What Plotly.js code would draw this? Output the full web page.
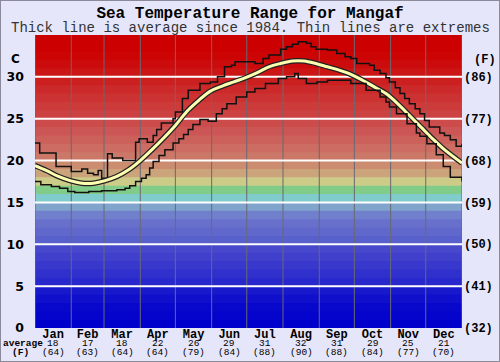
<!DOCTYPE html>
<html><head><meta charset="utf-8">
<script src="https://cdn.plot.ly/plotly-3.0.1.min.js"></script>
<style>
body{margin:0;background:#e6e6fa;}
#chart{width:500px;height:362px;}
#frame{position:absolute;left:0;top:0;width:500px;height:362px;box-sizing:border-box;border:1px solid #8a8a9a;pointer-events:none;}
</style>
</head><body>
<div id="chart"></div><div id="frame"></div>
<script>
// ---- data ----
const months = ['Jan','Feb','Mar','Apr','May','Jun','Jul','Aug','Sep','Oct','Nov','Dec'];
const monthStart = [0,31,59,90,120,151,181,212,243,273,304,334,365];
const monthAvgC = [18,17,18,22,26,29,31,32,31,29,25,21];
const monthAvgF = [64,63,64,64,79,84,88,90,88,84,77,70];
const yTicksC = [0,5,10,15,20,25,30];
const yTicksF = ['(32)','(41)','(50)','(59)','(68)','(77)','(86)'];
const gridC = [5,10,15,20,25,30];

const avgDays = [0,10,20,30,40,50,60,70,80,90,100,110,120,130,140,150,160,170,180,190,200,210,220,230,240,250,260,270,280,290,300,310,320,330,340,350,365];
const avgTemp = [19.4,18.8,18.1,17.6,17.3,17.3,17.6,18.1,18.9,20.0,21.3,22.7,24.2,25.9,27.2,28.3,28.9,29.4,29.9,30.5,31.2,31.6,31.9,31.9,31.6,31.2,30.8,30.3,29.6,28.8,28.0,26.8,25.4,24.0,22.6,21.3,19.7];

const maxDays = [0,4,18,31,40,45,50,54,57,62,66,75,86,89,96,101,104,108,118,120,126,131,141,150,156,162,168,171,185,188,195,200,210,215,220,225,232,236,240,250,258,265,270,275,286,290,295,300,303,308,312,316,320,325,329,333,337,346,350,355,360,365];
const maxTemp = [22.1,20.9,19.3,18.7,19.0,18.5,18.3,18.8,17.9,20.8,20.3,20.0,22.2,22.6,22.2,23.0,23.7,24.5,25.0,25.8,27.4,28.4,29.2,29.4,30.0,31.2,31.4,31.8,31.8,31.6,32.2,32.6,33.3,33.6,33.9,34.2,34.0,33.6,33.3,33.2,32.8,32.4,32.2,31.6,31.4,30.8,30.4,29.9,29.4,28.7,28.0,27.4,26.8,26.2,25.6,24.8,24.0,23.3,23.0,22.5,21.7,22.0];

const minDays = [0,5,14,21,28,34,46,57,70,77,81,86,91,95,98,101,106,111,118,123,127,131,135,141,148,155,160,164,172,181,188,197,208,215,222,225,232,241,250,262,270,283,295,300,303,309,318,326,329,335,343,349,355,365];
const minTemp = [17.5,17.1,16.9,16.7,16.3,16.2,16.3,16.4,16.5,16.7,17.0,17.5,17.9,18.3,19.1,19.9,20.6,21.3,22.1,22.6,23.1,23.7,24.3,24.9,24.7,25.6,26.2,26.8,27.6,28.2,28.6,29.2,29.8,30.0,30.4,29.8,29.2,29.4,29.6,29.6,29.2,28.4,27.6,27.0,26.4,25.6,24.4,23.3,22.9,22.0,20.7,19.3,18.0,17.5];

// background band colours, one per degree C from 0 upward
const bandColors = [
 'rgb(0,0,204)','rgb(4,4,204)','rgb(8,8,204)','rgb(16,16,204)','rgb(24,24,204)',
 'rgb(40,40,204)','rgb(48,48,204)','rgb(56,56,204)','rgb(64,64,204)','rgb(72,72,204)',
 'rgb(88,96,204)','rgb(96,104,204)','rgb(104,112,204)','rgb(112,128,204)','rgb(128,164,204)',
 'rgb(128,204,204)','rgb(128,204,136)','rgb(204,204,136)','rgb(204,164,124)','rgb(204,140,112)',
 'rgb(204,120,104)','rgb(204,108,98)','rgb(204,96,90)','rgb(204,86,86)','rgb(204,76,76)',
 'rgb(204,66,66)','rgb(204,58,58)','rgb(204,50,50)','rgb(204,42,42)','rgb(204,32,32)',
 'rgb(204,22,22)','rgb(204,12,12)','rgb(204,4,4)','rgb(204,0,0)','rgb(204,0,0)'];

// ---- build ----
const mono = 'Liberation Mono, Courier New, monospace';
const monthMid = months.map((m,i)=>(monthStart[i]+monthStart[i+1])/2);
const monthText = months.map(m=>'<b>'+m+'</b>');

const shapes = [];
bandColors.forEach((c,k)=>shapes.push({type:'rect',xref:'x',yref:'y',x0:0,x1:365,y0:k,y1:Math.min(k+1.15,35),
  fillcolor:c,line:{width:0},layer:'below'}));
monthStart.forEach(d=>shapes.push({type:'line',xref:'x',yref:'y',x0:d,x1:d,y0:0,y1:35,
  line:{color:'rgb(105,105,115)',width:1},layer:'below'}));
gridC.forEach(v=>shapes.push({type:'line',xref:'x',yref:'y',x0:0,x1:365,y0:v,y1:v,
  line:{color:'#ffffff',width:2},layer:'below'}));

const traces = [
 {x:maxDays,y:maxTemp,mode:'lines',line:{color:'#111',width:1.5,shape:'hv'},hoverinfo:'skip'},
 {x:minDays,y:minTemp,yaxis:'y2',mode:'lines',line:{color:'#111',width:1.5,shape:'hv'},hoverinfo:'skip'},
 {x:avgDays,y:avgTemp,mode:'lines',line:{color:'#222',width:5.5,shape:'spline'},hoverinfo:'skip'},
 {x:avgDays,y:avgTemp,mode:'lines',line:{color:'rgb(255,255,176)',width:3,shape:'spline'},hoverinfo:'skip'}
];

const annotations = [
  {text:'Thick line is average since 1984. Thin lines are extremes',xref:'paper',yref:'paper',
   x:(250-35)/427,y:(328-28)/293,xanchor:'center',yanchor:'middle',showarrow:false,
   font:{family:mono,size:14,color:'#333'}},
  {text:'<b>C</b>',xref:'paper',yref:'y',x:0,xshift:-13,xanchor:'right',y:32.1,yanchor:'middle',showarrow:false,
   font:{family:'DejaVu Sans',size:12,color:'#000'}},
  {text:'<b>(F)</b>',xref:'paper',yref:'y',x:1,xshift:10,xanchor:'left',y:32,yanchor:'middle',showarrow:false,
   font:{family:mono,size:12,color:'#000'}},
  {text:'<b>average</b>',xref:'paper',yref:'paper',x:0,xshift:-12,xanchor:'center',y:-15/293,yanchor:'middle',
   showarrow:false,font:{family:mono,size:9.5,color:'#000'}},
  {text:'<b>(F)</b>',xref:'paper',yref:'paper',x:0,xshift:-15,xanchor:'center',y:-24.5/293,yanchor:'middle',
   showarrow:false,font:{family:mono,size:9.5,color:'#000'}}
];
monthMid.forEach((d,i)=>{
  annotations.push({text:String(monthAvgC[i]),xref:'x',yref:'paper',x:d,y:-15.5/293,xanchor:'center',yanchor:'middle',
    showarrow:false,font:{family:mono,size:9.5,color:'#000'}});
  annotations.push({text:'('+monthAvgF[i]+')',xref:'x',yref:'paper',x:d,y:-24.5/293,xanchor:'center',yanchor:'middle',
    showarrow:false,font:{family:mono,size:9.5,color:'#000'}});
});

const layout = {
  width:500,height:362,
  margin:{l:35,r:38,t:35,b:34},
  paper_bgcolor:'#e6e6fa',plot_bgcolor:'#e6e6fa',
  showlegend:false,
  title:{text:'<b>Sea Temperature Range for Mangaf</b>',x:0.5,xanchor:'center',y:1-12/362,yanchor:'middle',
    font:{family:mono,size:16,color:'#000'}},
  xaxis:{range:[0,365],tickmode:'array',tickvals:monthMid,ticktext:monthText,showgrid:false,zeroline:false,
    ticks:'',ticklabelstandoff:-3,tickfont:{family:mono,size:12,color:'#000'},showline:false},
  yaxis:{range:[0,35],tickmode:'array',tickvals:yTicksC,showgrid:false,zeroline:false,ticks:'',
    ticklabelstandoff:10,tickfont:{family:'DejaVu Sans',size:12.5,color:'#000',weight:'bold'}},
  yaxis2:{range:[0,35],overlaying:'y',side:'right',anchor:'x',tickmode:'array',tickvals:yTicksC,ticktext:yTicksF,
    showgrid:false,zeroline:false,ticks:'',ticklabelstandoff:1,tickfont:{family:mono,size:12,color:'#000',weight:'bold'}},
  shapes:shapes,
  annotations:annotations
};

Plotly.newPlot('chart',traces,layout,{staticPlot:true,displayModeBar:false});
</script>
</body></html>
